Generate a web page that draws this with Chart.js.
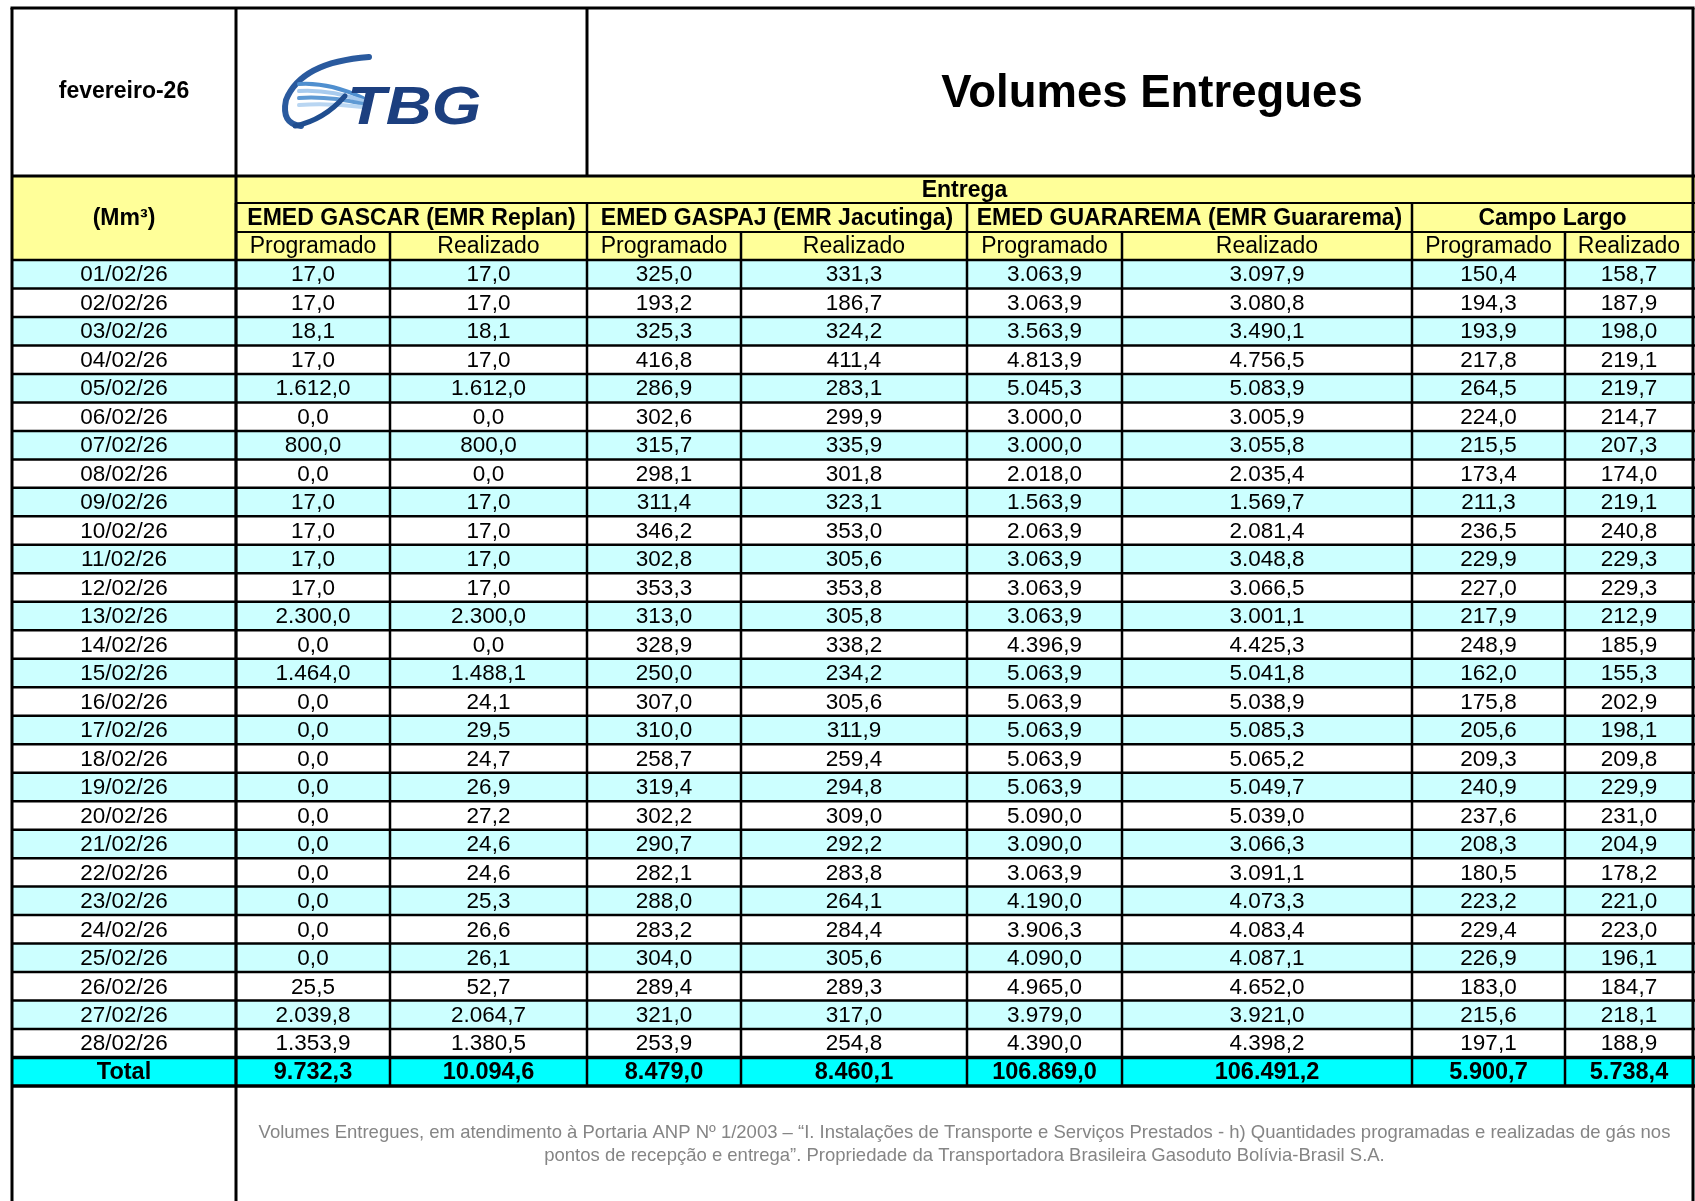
<!DOCTYPE html>
<html>
<head>
<meta charset="utf-8">
<script src="https://cdn.jsdelivr.net/npm/chart.js@4.4.1/dist/chart.umd.min.js"></script>
<style>
  html, body { margin: 0; padding: 0; background: #fff; }
  canvas { display: block; }
</style>
</head>
<body>
<canvas id="tabela" width="1695" height="1201"></canvas>
<script>
// data read from the sheet
const mesLabel = 'fevereiro-26';
const titulo = 'Volumes Entregues';
const unidade = '(Mm³)';
const grupoTopo = 'Entrega';
const grupos = ['EMED GASCAR (EMR Replan)', 'EMED GASPAJ (EMR Jacutinga)', 'EMED GUARAREMA (EMR Guararema)', 'Campo Largo'];
const subCols = ['Programado', 'Realizado'];

const datas = ['01/02/26', '02/02/26', '03/02/26', '04/02/26', '05/02/26', '06/02/26', '07/02/26',
  '08/02/26', '09/02/26', '10/02/26', '11/02/26', '12/02/26', '13/02/26', '14/02/26',
  '15/02/26', '16/02/26', '17/02/26', '18/02/26', '19/02/26', '20/02/26', '21/02/26',
  '22/02/26', '23/02/26', '24/02/26', '25/02/26', '26/02/26', '27/02/26', '28/02/26'];

const gascarProg = [17.0, 17.0, 18.1, 17.0, 1612.0, 0.0, 800.0, 0.0, 17.0, 17.0, 17.0, 17.0, 2300.0, 0.0,
  1464.0, 0.0, 0.0, 0.0, 0.0, 0.0, 0.0, 0.0, 0.0, 0.0, 0.0, 25.5, 2039.8, 1353.9];
const gascarReal = [17.0, 17.0, 18.1, 17.0, 1612.0, 0.0, 800.0, 0.0, 17.0, 17.0, 17.0, 17.0, 2300.0, 0.0,
  1488.1, 24.1, 29.5, 24.7, 26.9, 27.2, 24.6, 24.6, 25.3, 26.6, 26.1, 52.7, 2064.7, 1380.5];
const gaspajProg = [325.0, 193.2, 325.3, 416.8, 286.9, 302.6, 315.7, 298.1, 311.4, 346.2, 302.8, 353.3, 313.0, 328.9,
  250.0, 307.0, 310.0, 258.7, 319.4, 302.2, 290.7, 282.1, 288.0, 283.2, 304.0, 289.4, 321.0, 253.9];
const gaspajReal = [331.3, 186.7, 324.2, 411.4, 283.1, 299.9, 335.9, 301.8, 323.1, 353.0, 305.6, 353.8, 305.8, 338.2,
  234.2, 305.6, 311.9, 259.4, 294.8, 309.0, 292.2, 283.8, 264.1, 284.4, 305.6, 289.3, 317.0, 254.8];
const guararemaProg = [3063.9, 3063.9, 3563.9, 4813.9, 5045.3, 3000.0, 3000.0, 2018.0, 1563.9, 2063.9, 3063.9, 3063.9, 3063.9, 4396.9,
  5063.9, 5063.9, 5063.9, 5063.9, 5063.9, 5090.0, 3090.0, 3063.9, 4190.0, 3906.3, 4090.0, 4965.0, 3979.0, 4390.0];
const guararemaReal = [3097.9, 3080.8, 3490.1, 4756.5, 5083.9, 3005.9, 3055.8, 2035.4, 1569.7, 2081.4, 3048.8, 3066.5, 3001.1, 4425.3,
  5041.8, 5038.9, 5085.3, 5065.2, 5049.7, 5039.0, 3066.3, 3091.1, 4073.3, 4083.4, 4087.1, 4652.0, 3921.0, 4398.2];
const campoProg = [150.4, 194.3, 193.9, 217.8, 264.5, 224.0, 215.5, 173.4, 211.3, 236.5, 229.9, 227.0, 217.9, 248.9,
  162.0, 175.8, 205.6, 209.3, 240.9, 237.6, 208.3, 180.5, 223.2, 229.4, 226.9, 183.0, 215.6, 197.1];
const campoReal = [158.7, 187.9, 198.0, 219.1, 219.7, 214.7, 207.3, 174.0, 219.1, 240.8, 229.3, 229.3, 212.9, 185.9,
  155.3, 202.9, 198.1, 209.8, 229.9, 231.0, 204.9, 178.2, 221.0, 223.0, 196.1, 184.7, 218.1, 188.9];

const totais = [9732.3, 10094.6, 8479.0, 8460.1, 106869.0, 106491.2, 5900.7, 5738.4];

const rodape = [
  'Volumes Entregues, em atendimento à Portaria ANP Nº 1/2003 – “I. Instalações de Transporte e Serviços Prestados - h) Quantidades programadas e realizadas de gás nos',
  'pontos de recepção e entrega”. Propriedade da Transportadora Brasileira Gasoduto Bolívia-Brasil S.A.'
];

const series = [gascarProg, gascarReal, gaspajProg, gaspajReal, guararemaProg, guararemaReal, campoProg, campoReal];
const rowLabels = datas.concat(['Total']);

// layout (not data)
const colWidths = [224, 154, 197, 154, 226, 155, 290, 153, 128];
const colEdges = [0];
colWidths.forEach(w => colEdges.push(colEdges[colEdges.length - 1] + w));
const headerY = { top: 8, logoBottom: 176, entrega: 203, grupo: 232 };
const FONT = '"Liberation Sans", Arial, sans-serif';

function fmt(v) {
  const [i, d] = v.toFixed(1).split('.');
  return i.replace(/\B(?=(\d{3})+(?!\d))/g, '.') + ',' + d;
}

function drawLogo(ctx, x0, y0) {
  ctx.save();
  ctx.lineCap = 'round';
  // swoosh
  ctx.strokeStyle = '#2a5a9e';
  ctx.lineWidth = 6;
  ctx.beginPath();
  ctx.moveTo(x0 + 90, y0 + 3);
  ctx.quadraticCurveTo(x0 + 22, y0 + 8, x0 + 7, y0 + 46);
  ctx.quadraticCurveTo(x0 + 2, y0 + 70, x0 + 22, y0 + 72);
  ctx.stroke();
  const stripes = ['#4f8fcf', '#a8cbee', '#5f9ad4', '#b9d6f2'];
  ctx.lineWidth = 4;
  stripes.forEach((c, i) => {
    ctx.strokeStyle = c;
    ctx.beginPath();
    ctx.moveTo(x0 + 20, y0 + 30 + i * 7);
    ctx.quadraticCurveTo(x0 + 50, y0 + 28 + i * 7, x0 + 84, y0 + 44 + i * 3);
    ctx.stroke();
  });
  ctx.strokeStyle = '#1f4d8f';
  ctx.lineWidth = 5;
  ctx.beginPath();
  ctx.moveTo(x0 + 16, y0 + 72);
  ctx.quadraticCurveTo(x0 + 45, y0 + 66, x0 + 66, y0 + 42);
  ctx.stroke();
  // TBG lettering
  ctx.fillStyle = '#1c3f7f';
  ctx.font = 'italic bold 53px ' + FONT;
  ctx.textBaseline = 'alphabetic';
  ctx.textAlign = 'left';
  ctx.translate(x0 + 68, y0 + 70);
  ctx.scale(1.2, 1);
  ctx.fillText('TBG', 0, 0);
  ctx.restore();
}

const tablePlugin = {
  id: 'tabelaVolumes',
  afterDraw(chart) {
    const ctx = chart.ctx;
    const xs = chart.scales.x, ys = chart.scales.y;
    const X = i => xs.getPixelForValue(colEdges[i]);
    const rowH = ys.getPixelForValue(1) - ys.getPixelForValue(0);
    const rowTop = i => ys.getPixelForValue(i) - rowH / 2;
    const left = X(0), right = X(colEdges.length - 1);
    const area = chart.chartArea;
    const bottom = chart.height;
    const nRows = rowLabels.length;

    ctx.save();
    // header background
    ctx.fillStyle = '#ffffff';
    ctx.fillRect(left, headerY.top, right - left, headerY.logoBottom - headerY.top);
    ctx.fillStyle = '#ffff99';
    ctx.fillRect(left, headerY.logoBottom, chart.width - left, area.top - headerY.logoBottom);

    // data rows background
    for (let r = 0; r < nRows; r++) {
      const isTotal = r === nRows - 1;
      ctx.fillStyle = isTotal ? '#00ffff' : (r % 2 === 0 ? '#ccffff' : '#ffffff');
      ctx.fillRect(left, rowTop(r), chart.width - left, rowH);
    }

    // texts
    ctx.fillStyle = '#000';
    ctx.textAlign = 'center';
    ctx.textBaseline = 'middle';
    ctx.font = 'bold 23px ' + FONT;
    ctx.fillText(mesLabel, (X(0) + X(1)) / 2, (headerY.top + headerY.logoBottom) / 2);
    ctx.font = 'bold 45.5px ' + FONT;
    ctx.fillText(titulo, (X(3) + X(9)) / 2 + 12, (headerY.top + headerY.logoBottom) / 2 + 2);
    ctx.font = 'bold 23px ' + FONT;
    ctx.fillText(unidade, (X(0) + X(1)) / 2, (headerY.logoBottom + area.top) / 2 + 1);
    ctx.fillText(grupoTopo, (X(1) + X(9)) / 2, (headerY.logoBottom + headerY.entrega) / 2 + 1);
    grupos.forEach((g, k) => {
      ctx.fillText(g, (X(1 + 2 * k) + X(3 + 2 * k)) / 2, (headerY.entrega + headerY.grupo) / 2 + 1);
    });
    ctx.font = '23px ' + FONT;
    for (let c = 1; c < colEdges.length - 1; c++) {
      ctx.fillText(subCols[(c - 1) % 2], (X(c) + X(c + 1)) / 2, (headerY.grupo + area.top) / 2 + 1);
    }
    for (let r = 0; r < nRows; r++) {
      const isTotal = r === nRows - 1;
      const cy = ys.getPixelForValue(r) + 1;
      ctx.font = isTotal ? 'bold 23.5px ' + FONT : '22.5px ' + FONT;
      ctx.fillText(rowLabels[r], (X(0) + X(1)) / 2, cy);
      series.forEach((s, k) => {
        const v = isTotal ? totais[k] : s[r];
        ctx.fillText(fmt(v), (X(k + 1) + X(k + 2)) / 2, cy);
      });
    }

    // footer note
    ctx.fillStyle = '#858585';
    ctx.font = '18.5px ' + FONT;
    const fx = (X(1) + X(9)) / 2;
    ctx.fillText(rodape[0], fx, 1133);
    ctx.fillText(rodape[1], fx, 1156);

    drawLogo(ctx, 279, 54);

    // grid lines
    ctx.strokeStyle = '#000';
    const hline = (x1, x2, y, w) => { ctx.lineWidth = w; ctx.beginPath(); ctx.moveTo(x1, y); ctx.lineTo(x2, y); ctx.stroke(); };
    const vline = (x, y1, y2, w) => { ctx.lineWidth = w; ctx.beginPath(); ctx.moveTo(x, y1); ctx.lineTo(x, y2); ctx.stroke(); };

    hline(left - 1.5, right + 1.5, headerY.top, 3);
    hline(left, chart.width, headerY.logoBottom, 3);
    hline(X(1), chart.width, headerY.entrega, 2);
    hline(X(1), chart.width, headerY.grupo, 2);
    hline(left, chart.width, area.top, 2.5);
    for (let r = 1; r <= nRows; r++) {
      hline(left, chart.width, rowTop(r), r >= nRows - 1 ? 3.5 : 2.5);
    }

    vline(left, headerY.top, bottom, 3);
    vline(right, headerY.top, bottom, 3);
    vline(X(1), headerY.top, bottom, 3);
    vline(X(3), headerY.top, headerY.logoBottom, 3);
    for (let k = 0; k < grupos.length; k++) {
      vline(X(1 + 2 * k), headerY.entrega, rowTop(nRows), 2.5);
      vline(X(2 + 2 * k), headerY.grupo, rowTop(nRows), 2.5);
    }
    ctx.restore();
  }
};

new Chart(document.getElementById('tabela'), {
  type: 'scatter',
  data: { labels: rowLabels, datasets: [] },
  options: {
    responsive: false,
    animation: false,
    events: [],
    layout: { padding: { left: 12, right: 2, top: 260, bottom: 115 } },
    scales: {
      x: { type: 'linear', min: 0, max: colEdges[colEdges.length - 1], display: false },
      y: { type: 'category', labels: rowLabels, offset: true, display: false }
    },
    plugins: { legend: { display: false }, tooltip: { enabled: false } }
  },
  plugins: [tablePlugin]
});
</script>
</body>
</html>
